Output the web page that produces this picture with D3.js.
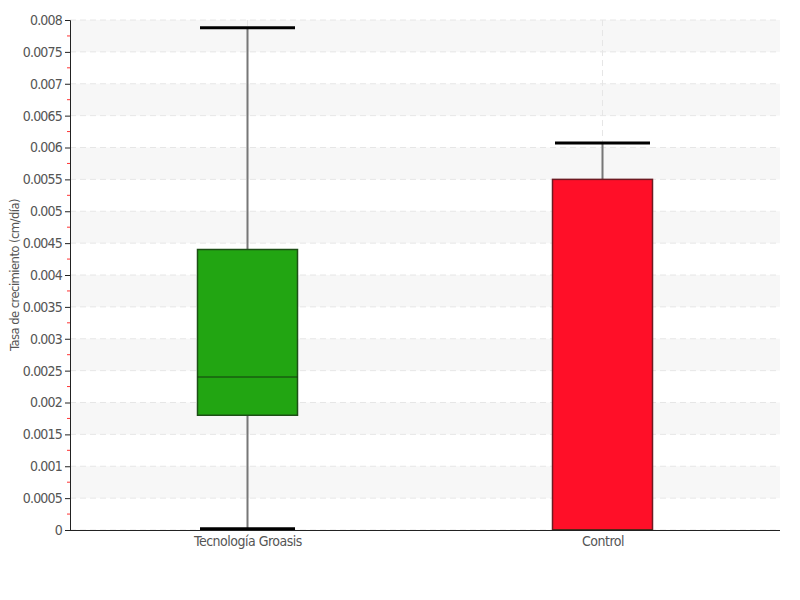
<!DOCTYPE html>
<html>
<head>
<meta charset="utf-8">
<script src="https://cdn.jsdelivr.net/npm/d3@7"></script>
<style>
  body { margin: 0; background: #fff; }
  svg text { font-family: "DejaVu Sans Condensed", "DejaVu Sans", sans-serif; font-stretch: condensed; fill: #555; }
</style>
</head>
<body>
<svg id="chart" width="800" height="600"></svg>
<script>
// data
const categories = ['Tecnología Groasis', 'Control'];
const mins    = [0.00002, 0];
const q1s     = [0.0018, 0];
const medians = [0.0024, 0];
const q3s     = [0.0044, 0.0055];
const maxs    = [0.00788, 0.00607];
const fills   = ['#22a512', '#ff0f28'];
const strokes = ['#1d4f16', '#6e1a22'];
const yTicks  = d3.range(0, 0.00801, 0.0005);

const margin = {top: 20, right: 20, bottom: 70, left: 70};
const w = 800, h = 600;
const svg = d3.select('#chart');

const x = d3.scalePoint().domain(categories).range([margin.left, w - margin.right]).padding(0.5);
const y = d3.scaleLinear().domain([0, 0.008]).range([h - margin.bottom, margin.top]);

const fmt = d => +d.toFixed(4) + '';

// alternating bands
const bands = svg.append('g');
for (let v = 0.001; v <= 0.008 + 1e-9; v += 0.001) {
    bands.append('rect')
        .attr('x', margin.left).attr('width', w - margin.right - margin.left)
        .attr('y', y(v)).attr('height', y(v - 0.0005) - y(v))
        .attr('fill', '#f7f7f7');
}

// grid
svg.append('g').selectAll('line').data(yTicks).enter().append('line')
    .attr('x1', margin.left).attr('x2', w - margin.right)
    .attr('y1', d => y(d)).attr('y2', d => y(d))
    .attr('stroke', '#e6e6e6').attr('stroke-dasharray', '6,4');
svg.append('g').selectAll('line').data(categories).enter().append('line')
    .attr('x1', d => x(d)).attr('x2', d => x(d))
    .attr('y1', margin.top).attr('y2', h - margin.bottom)
    .attr('stroke', '#e6e6e6').attr('stroke-dasharray', '6,4');

// boxes
const boxW = 100, capW = 95;
const g = svg.append('g').selectAll('g').data(categories).enter().append('g');
g.append('line')
    .attr('x1', d => x(d)).attr('x2', d => x(d))
    .attr('y1', (d, i) => y(maxs[i])).attr('y2', (d, i) => y(mins[i]))
    .attr('stroke', '#777').attr('stroke-width', 2);
g.append('rect')
    .attr('x', d => x(d) - boxW / 2).attr('width', boxW)
    .attr('y', (d, i) => y(q3s[i])).attr('height', (d, i) => y(q1s[i]) - y(q3s[i]))
    .attr('fill', (d, i) => fills[i]).attr('stroke', (d, i) => strokes[i]).attr('stroke-width', 1.5);
g.append('line')
    .attr('x1', d => x(d) - boxW / 2).attr('x2', d => x(d) + boxW / 2)
    .attr('y1', (d, i) => y(medians[i])).attr('y2', (d, i) => y(medians[i]))
    .attr('stroke', '#123a0e').attr('stroke-width', 1);
g.append('line')
    .attr('x1', d => x(d) - capW / 2).attr('x2', d => x(d) + capW / 2)
    .attr('y1', (d, i) => y(maxs[i])).attr('y2', (d, i) => y(maxs[i]))
    .attr('stroke', '#000').attr('stroke-width', 3);
g.append('line')
    .attr('x1', d => x(d) - capW / 2).attr('x2', d => x(d) + capW / 2)
    .attr('y1', (d, i) => y(mins[i])).attr('y2', (d, i) => y(mins[i]))
    .attr('stroke', '#000').attr('stroke-width', 3)
    .attr('display', (d, i) => mins[i] === q1s[i] ? 'none' : null);

// minor ticks
svg.append('g').selectAll('line').data(d3.range(0.00025, 0.008, 0.0005)).enter().append('line')
    .attr('x1', margin.left - 3).attr('x2', margin.left)
    .attr('y1', d => y(d)).attr('y2', d => y(d))
    .attr('stroke', '#ff3333');

// axes
const yAxis = svg.append('g').attr('transform', `translate(${margin.left},0)`)
    .call(d3.axisLeft(y).tickValues(yTicks).tickFormat(fmt).tickSize(5).tickPadding(3));
yAxis.select('.domain').attr('stroke', '#222');
yAxis.selectAll('.tick line').attr('stroke', '#222');
yAxis.selectAll('text').style('font-size', '14px').style('letter-spacing', '-0.8px');

const xAxis = svg.append('g').attr('transform', `translate(0,${h - margin.bottom})`)
    .call(d3.axisBottom(x).tickSize(0).tickPadding(6));
xAxis.select('.domain').attr('stroke', '#222').attr('d', `M${margin.left},0.5H${w - margin.right}`);
xAxis.selectAll('text').style('font-size', '14px').style('letter-spacing', '-0.5px');

svg.append('text')
    .attr('transform', `translate(19,${(margin.top + h - margin.bottom) / 2}) rotate(-90)`)
    .attr('text-anchor', 'middle')
    .style('font-size', '13px')
    .style('letter-spacing', '-0.6px')
    .text('Tasa de crecimiento (cm/día)');
</script>
</body>
</html>
